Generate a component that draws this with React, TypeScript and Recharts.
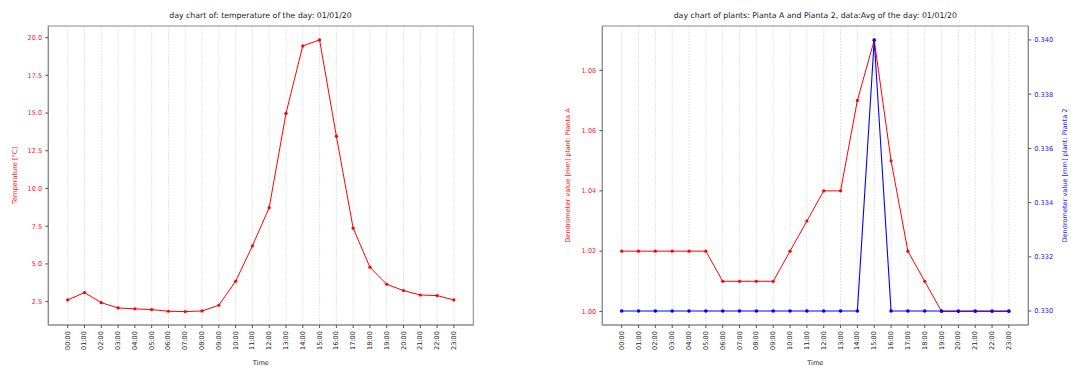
import React from "react";
import { LineChart, Line, XAxis, YAxis, CartesianGrid, Customized } from "recharts";

const hours = [
  "00:00", "01:00", "02:00", "03:00", "04:00", "05:00", "06:00", "07:00",
  "08:00", "09:00", "10:00", "11:00", "12:00", "13:00", "14:00", "15:00",
  "16:00", "17:00", "18:00", "19:00", "20:00", "21:00", "22:00", "23:00",
];

const temperature = [
  2.61, 3.1, 2.43, 2.08, 2.02, 1.97, 1.86, 1.84, 1.88, 2.26, 3.85, 6.19,
  8.73, 14.98, 19.45, 19.85, 13.47, 7.37, 4.78, 3.65, 3.23, 2.94, 2.9, 2.61,
];

const plantA = [
  1.02, 1.02, 1.02, 1.02, 1.02, 1.02, 1.01, 1.01, 1.01, 1.01, 1.02, 1.03,
  1.04, 1.04, 1.07, 1.09, 1.05, 1.02, 1.01, 1.0, 1.0, 1.0, 1.0, 1.0,
];

const plant2 = [
  0.33, 0.33, 0.33, 0.33, 0.33, 0.33, 0.33, 0.33, 0.33, 0.33, 0.33, 0.33,
  0.33, 0.33, 0.33, 0.34, 0.33, 0.33, 0.33, 0.33, 0.33, 0.33, 0.33, 0.33,
];

const tempTicks = [2.5, 5.0, 7.5, 10.0, 12.5, 15.0, 17.5, 20.0];
const plantATicks = [1.0, 1.02, 1.04, 1.06, 1.08];
const plant2Ticks = [0.33, 0.332, 0.334, 0.336, 0.338, 0.34];

const tempData = hours.map((h, i) => ({ time: h, temp: temperature[i] }));
const plantData = hours.map((h, i) => ({ time: h, a: plantA[i], b: plant2[i] }));

const FONT = "DejaVu Sans, sans-serif";
const TICK_FS = 6.6;
const TITLE_FS = 7.8;
const SPINE = "#8a8a8a";
const GRID = "#dedede";

const XTick = (props: any) => {
  const { x, y, payload } = props;
  return (
    <text
      x={x}
      y={y}
      transform={`rotate(-90, ${x}, ${y})`}
      textAnchor="end"
      dominantBaseline="central"
      fontFamily={FONT}
      fontSize={TICK_FS}
      fill="#222"
    >
      {payload.value}
    </text>
  );
};

const TOP = 26;
const BOTTOM = 325;
const H = 367;

export default function App() {
  const L = { x: 48.3, w: 425 };
  const R = { x: 122.3, w: 426 };
  const plotH = BOTTOM - TOP;

  return (
    <div style={{ position: "absolute", left: 0, top: 0, width: 1071, height: H, background: "#fff" }}>
      <div style={{ position: "absolute", left: 0, top: 0 }}>
        <LineChart
          width={480}
          height={H}
          data={tempData}
          margin={{ top: TOP, right: 480 - L.x - L.w, bottom: 0, left: 0 }}
        >
          <CartesianGrid horizontal={false} stroke={GRID} strokeDasharray="2 1" strokeWidth={0.8} />
          <XAxis
            dataKey="time"
            height={H - BOTTOM}
            padding={{ left: 19.4, right: 19.4 }}
            interval={0}
            tick={<XTick />}
            tickSize={3}
            tickMargin={3}
            axisLine={{ stroke: SPINE }}
            tickLine={{ stroke: "#555" }}
          />
          <YAxis
            type="number"
            width={L.x}
            domain={[0.95, 20.77]}
            ticks={tempTicks}
            allowDataOverflow
            tickFormatter={(v: number) => v.toFixed(1)}
            tick={{ fill: "#ff2020", fontSize: TICK_FS, fontFamily: FONT }}
            tickSize={3}
            tickMargin={3}
            axisLine={{ stroke: SPINE }}
            tickLine={{ stroke: "#555" }}
          />
          <Line
            dataKey="temp"
            stroke="#ff0000"
            strokeWidth={1}
            dot={{ r: 1.6, fill: "#ff0000", stroke: "none" }}
            activeDot={false}
            isAnimationActive={false}
          />
          <Customized
            component={() => (
              <g>
                <rect x={L.x} y={TOP} width={L.w} height={plotH} fill="none" stroke={SPINE} strokeWidth={1} />
                <text x={260.5} y={15} textAnchor="middle" dominantBaseline="central" fontFamily={FONT} fontSize={TITLE_FS} fill="#222">
                  day chart of: temperature of the day: 01/01/20
                </text>
                <text x={L.x + L.w / 2} y={363} textAnchor="middle" dominantBaseline="central" fontFamily={FONT} fontSize={TICK_FS} fill="#222">
                  Time
                </text>
                <text
                  x={14.5}
                  y={(TOP + BOTTOM) / 2}
                  transform={`rotate(-90, 14.5, ${(TOP + BOTTOM) / 2})`}
                  textAnchor="middle"
                  dominantBaseline="central"
                  fontFamily={FONT}
                  fontSize={TICK_FS}
                  fill="#ff2020"
                >
                  Temperature [°C]
                </text>
              </g>
            )}
          />
        </LineChart>
      </div>

      <div style={{ position: "absolute", left: 480, top: 0 }}>
        <LineChart
          width={591}
          height={H}
          data={plantData}
          margin={{ top: TOP, right: 0, bottom: 0, left: 0 }}
        >
          <CartesianGrid yAxisId="left" horizontal={false} stroke={GRID} strokeDasharray="2 1" strokeWidth={0.8} />
          <XAxis
            dataKey="time"
            height={H - BOTTOM}
            padding={{ left: 19.4, right: 19.4 }}
            interval={0}
            tick={<XTick />}
            tickSize={3}
            tickMargin={3}
            axisLine={{ stroke: SPINE }}
            tickLine={{ stroke: "#555" }}
          />
          <YAxis
            yAxisId="left"
            type="number"
            width={R.x}
            domain={[0.9955, 1.0947]}
            ticks={plantATicks}
            allowDataOverflow
            tickFormatter={(v: number) => v.toFixed(2)}
            tick={{ fill: "#ff2020", fontSize: TICK_FS, fontFamily: FONT }}
            tickSize={3}
            tickMargin={3}
            axisLine={{ stroke: SPINE }}
            tickLine={{ stroke: "#555" }}
          />
          <YAxis
            yAxisId="right"
            orientation="right"
            type="number"
            width={591 - R.x - R.w}
            domain={[0.329485, 0.340515]}
            ticks={plant2Ticks}
            allowDataOverflow
            tickFormatter={(v: number) => v.toFixed(3)}
            tick={{ fill: "#2020ff", fontSize: TICK_FS, fontFamily: FONT }}
            tickSize={3}
            tickMargin={3}
            axisLine={{ stroke: SPINE }}
            tickLine={{ stroke: "#555" }}
          />
          <Line
            yAxisId="left"
            dataKey="a"
            stroke="#ff0000"
            strokeWidth={1}
            dot={{ r: 1.6, fill: "#ff0000", stroke: "none" }}
            activeDot={false}
            isAnimationActive={false}
          />
          <Line
            yAxisId="right"
            dataKey="b"
            stroke="#0000ff"
            strokeWidth={1.1}
            dot={{ r: 1.8, fill: "#0000ff", stroke: "none" }}
            activeDot={false}
            isAnimationActive={false}
          />
          <Customized
            component={() => (
              <g>
                <rect x={R.x} y={TOP} width={R.w} height={plotH} fill="none" stroke={SPINE} strokeWidth={1} />
                <text x={R.x + R.w / 2} y={15} textAnchor="middle" dominantBaseline="central" fontFamily={FONT} fontSize={TITLE_FS} fill="#222">
                  day chart of plants: Pianta A and Pianta 2, data:Avg of the day: 01/01/20
                </text>
                <text x={R.x + R.w / 2} y={363} textAnchor="middle" dominantBaseline="central" fontFamily={FONT} fontSize={TICK_FS} fill="#222">
                  Time
                </text>
                <text
                  x={88}
                  y={(TOP + BOTTOM) / 2}
                  transform={`rotate(-90, 88, ${(TOP + BOTTOM) / 2})`}
                  textAnchor="middle"
                  dominantBaseline="central"
                  fontFamily={FONT}
                  fontSize={TICK_FS}
                  fill="#ff2020"
                >
                  Dendrometer value [mm] plant: Pianta A
                </text>
                <text
                  x={585}
                  y={(TOP + BOTTOM) / 2}
                  transform={`rotate(-90, 585, ${(TOP + BOTTOM) / 2})`}
                  textAnchor="middle"
                  dominantBaseline="central"
                  fontFamily={FONT}
                  fontSize={TICK_FS}
                  fill="#2020ff"
                >
                  Dendrometer value [mm] plant: Pianta 2
                </text>
              </g>
            )}
          />
        </LineChart>
      </div>
    </div>
  );
}
